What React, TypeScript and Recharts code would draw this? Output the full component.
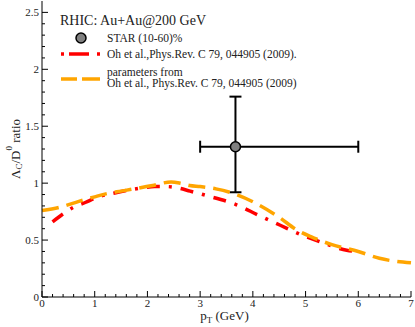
import { ComposedChart, ErrorBar, Legend, Line, Scatter, XAxis, YAxis } from 'recharts'

// theory curves (pT in GeV, ratio)
const ohX = [0.2, 0.4, 0.6, 0.82, 1.04, 1.44, 1.92, 2.14, 2.37, 2.56, 2.81, 3.13, 3.69, 4.1, 4.52, 4.95, 5.37, 5.78, 5.95]
const ohY = [0.66, 0.73, 0.79, 0.83, 0.875, 0.92, 0.96, 0.97, 0.97, 0.96, 0.93, 0.89, 0.81, 0.72, 0.63, 0.54, 0.47, 0.41, 0.4]

const paramX = [0, 0.35, 0.7, 1.0, 1.25, 1.5, 1.75, 2.1, 2.45, 2.62, 2.8, 3.0, 3.3, 3.63, 4.07, 4.5, 4.83, 5.1, 5.5, 6.0, 6.4, 7.0]
const paramY = [0.76, 0.79, 0.84, 0.88, 0.91, 0.93, 0.95, 0.98, 1.01, 1.0, 0.98, 0.97, 0.95, 0.91, 0.82, 0.7, 0.59, 0.53, 0.46, 0.4, 0.34, 0.3]

// STAR point with asymmetric errors [low, high]
const starX = [3.67]
const starY = [1.32]
const starErrX = [[0.67, 2.33]]
const starErrY = [[0.4, 0.44]]

const xMinorTicks = Array.from({ length: 36 }, (_, i) => Math.round(i * 2) / 10)
const yMinorTicks = Array.from({ length: 26 }, (_, i) => i / 10)

const ohData = ohX.map((x, i) => ({ x, y: ohY[i] }))
const paramData = paramX.map((x, i) => ({ x, y: paramY[i] }))
const starData = starX.map((x, i) => ({ x, y: starY[i], ex: starErrX[i], ey: starErrY[i] }))

const FONT = "'Times New Roman', serif"
const INK = '#222'
const txt = { fontFamily: FONT }

const isMajorX = (v: number) => Math.abs(v - Math.round(v)) < 1e-6
const isMajorY = (v: number) => Math.abs(v * 2 - Math.round(v * 2)) < 1e-6

function BottomTick({ x, y, payload }: any) {
  const major = isMajorX(payload.value)
  return (
    <g>
      <line x1={x} x2={x} y1={y} y2={y - (major ? 6 : 3)} stroke="#000" />
      {major && (
        <text x={x} y={y + 10} textAnchor="middle" fontSize={11} style={txt} fill={INK}>
          {payload.value}
        </text>
      )}
    </g>
  )
}

function TopTick({ x, y, payload }: any) {
  const major = isMajorX(payload.value)
  return <line x1={x} x2={x} y1={y} y2={y + (major ? 6 : 3)} stroke="#000" />
}

function LeftTick({ x, y, payload }: any) {
  const major = isMajorY(payload.value)
  return (
    <g>
      <line x1={x} x2={x + (major ? 6 : 3)} y1={y} y2={y} stroke="#000" />
      {major && (
        <text x={x - 3} y={y + 4} textAnchor="end" fontSize={11} style={txt} fill={INK}>
          {payload.value}
        </text>
      )}
    </g>
  )
}

function RightTick({ x, y, payload }: any) {
  const major = isMajorY(payload.value)
  return <line x1={x} x2={x - (major ? 6 : 3)} y1={y} y2={y} stroke="#000" />
}

function StarDot({ cx, cy }: any) {
  return <circle cx={cx} cy={cy} r={5} fill="#808080" stroke="#000" strokeWidth={1.5} />
}

function LegendBox() {
  return (
    <svg width={415} height={100} style={{ display: 'block' }}>
      <g style={txt} fill={INK}>
        <text x={60} y={25} fontSize={14}>RHIC: Au+Au@200 GeV</text>
        <circle cx={81} cy={38} r={5} fill="#808080" stroke="#000" strokeWidth={1.5} />
        <text x={107} y={42} fontSize={11.5}>STAR (10-60)%</text>
        <line x1={61} x2={100} y1={54} y2={54} stroke="#ff0000" strokeWidth={3.5} strokeDasharray="3 5 20 8 3" />
        <text x={107} y={58} fontSize={11.5}>Oh et al.,Phys.Rev. C 79, 044905 (2009).</text>
        <line x1={61} x2={100} y1={79} y2={79} stroke="#ffa500" strokeWidth={3.5} strokeDasharray="16 5 18" />
        <text x={107} y={76} fontSize={11.5}>parameters from</text>
        <text x={107} y={86.5} fontSize={11.5}>Oh et al., Phys.Rev. C 79, 044905 (2009)</text>
      </g>
    </svg>
  )
}

function YTitle({ viewBox }: any) {
  const cx = 15
  const cy = viewBox ? viewBox.y + viewBox.height / 2 : 148
  return (
    <text
      x={cx}
      y={cy}
      transform={`rotate(-90 ${cx} ${cy})`}
      textAnchor="middle"
      dominantBaseline="central"
      fontSize={13}
      style={txt}
      fill={INK}
    >
      Λ<tspan dy={4} fontSize={9}>C</tspan>
      <tspan dy={-4}>/D</tspan>
      <tspan dy={-6} fontSize={9}>0</tspan>
      <tspan dy={6}> ratio</tspan>
    </text>
  )
}

function XTitle({ viewBox }: any) {
  const cx = viewBox ? viewBox.x + viewBox.width / 2 - 2 : 224
  return (
    <text x={cx} y={320} textAnchor="middle" fontSize={13} style={txt} fill={INK}>
      p<tspan dy={3} fontSize={9}>T</tspan>
      <tspan dy={-3}> (GeV)</tspan>
    </text>
  )
}

export default function App() {
  return (
    <div style={{ position: 'absolute', left: 0, top: 0, width: 415, height: 327, background: '#fff', fontFamily: FONT }}>
      <ComposedChart width={415} height={327} margin={{ top: 1, right: 4, bottom: 0, left: 0 }}>
        <XAxis
          dataKey="x"
          type="number"
          domain={[0, 7]}
          ticks={xMinorTicks}
          interval={0}
          tickSize={0}
          tickMargin={0}
          tick={<BottomTick />}
          axisLine={{ stroke: '#000' }}
          height={30}
          label={<XTitle />}
        />
        <XAxis
          xAxisId="top"
          orientation="top"
          type="number"
          domain={[0, 7]}
          ticks={xMinorTicks}
          interval={0}
          tickSize={0}
          tickMargin={0}
          tick={<TopTick />}
          axisLine={{ stroke: '#000' }}
          height={0}
        />
        <YAxis
          dataKey="y"
          type="number"
          domain={[0, 2.6]}
          ticks={yMinorTicks}
          interval={0}
          tickSize={0}
          tickMargin={0}
          tick={<LeftTick />}
          axisLine={{ stroke: '#000' }}
          width={42}
          label={<YTitle />}
        />
        <YAxis
          yAxisId="right"
          orientation="right"
          type="number"
          domain={[0, 2.6]}
          ticks={yMinorTicks}
          interval={0}
          tickSize={0}
          tickMargin={0}
          tick={<RightTick />}
          axisLine={{ stroke: '#000' }}
          width={0}
        />
        <Legend
          layout="horizontal"
          verticalAlign="middle"
          align="center"
          wrapperStyle={{ left: 0, top: 0, width: 415, height: 100, margin: 0, pointerEvents: 'none' }}
          content={() => <LegendBox />}
        />
        <Scatter data={starData} shape={<StarDot />} isAnimationActive={false}>
          <ErrorBar dataKey="ex" direction="x" width={6} stroke="#000" strokeWidth={2} />
          <ErrorBar dataKey="ey" direction="y" width={6} stroke="#000" strokeWidth={2} />
        </Scatter>
        <Line
          data={ohData}
          dataKey="y"
          type="monotone"
          stroke="#ff0000"
          strokeWidth={3.5}
          strokeDasharray="13 9 3 9"
          dot={false}
          isAnimationActive={false}
        />
        <Line
          data={paramData}
          dataKey="y"
          type="monotone"
          stroke="#ffa500"
          strokeWidth={3.5}
          strokeDasharray="17 8"
          dot={false}
          isAnimationActive={false}
        />
      </ComposedChart>
    </div>
  )
}
